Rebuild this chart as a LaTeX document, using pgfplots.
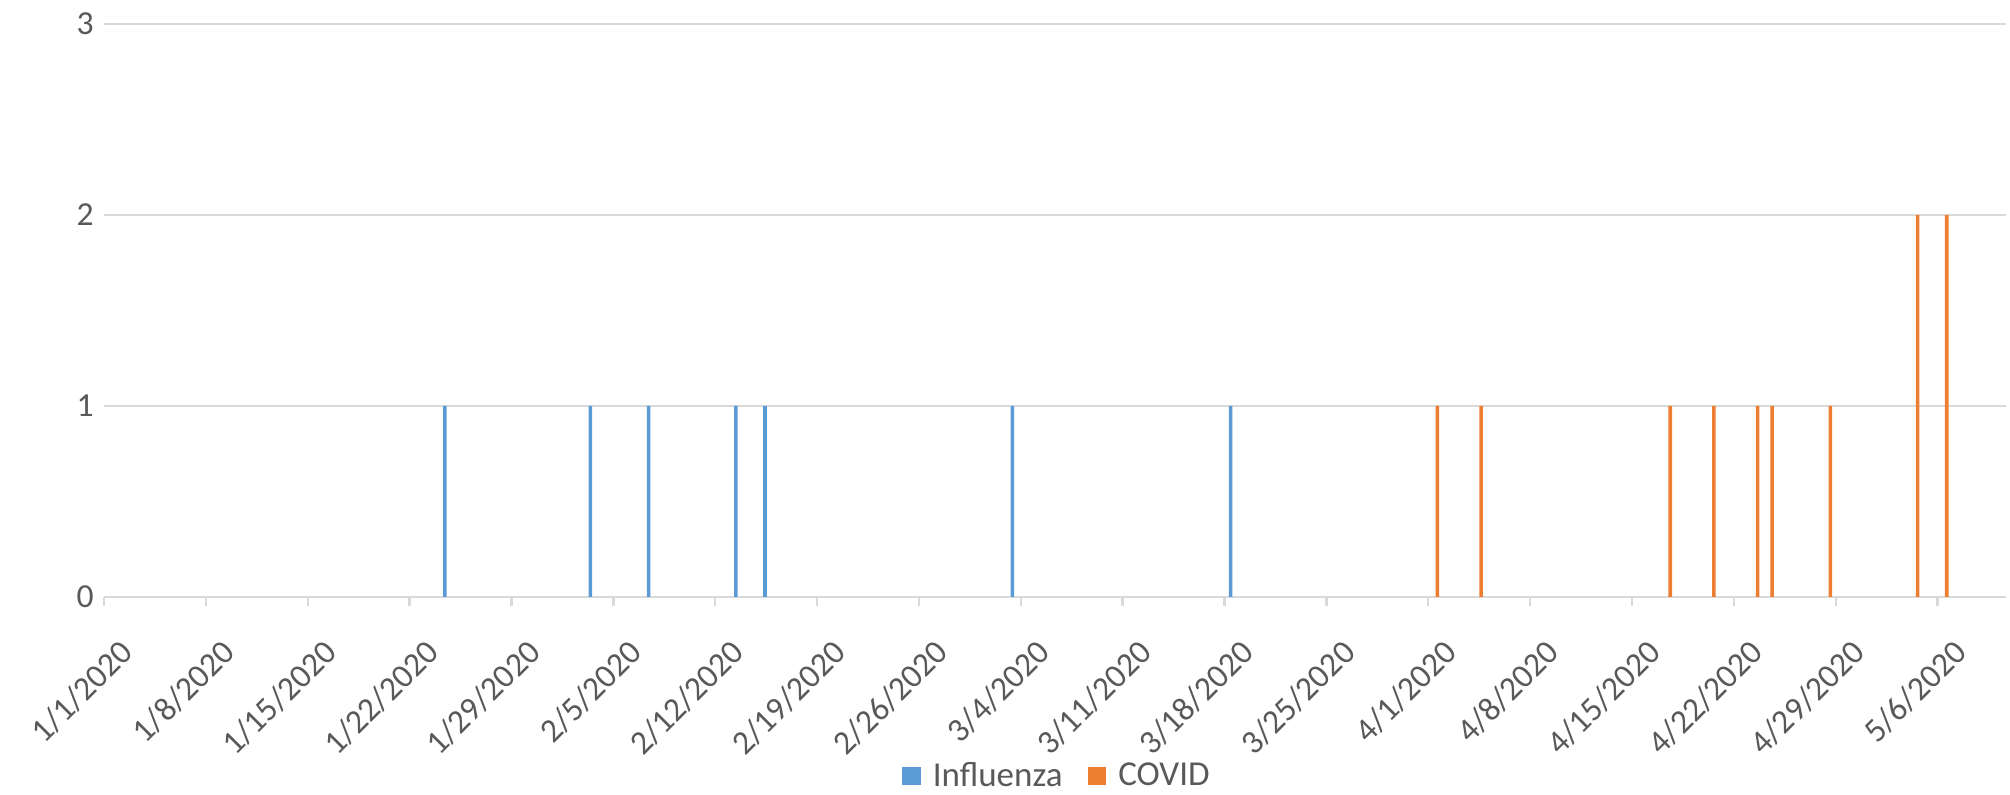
\documentclass[border=0pt]{standalone}
\usepackage{pgfplots}
\pgfplotsset{compat=1.18}
\usepackage{pgfplotstable}
\usepackage{fontspec}
\setmainfont{Carlito}
\definecolor{infl}{HTML}{5B9BD5}
\definecolor{covid}{HTML}{ED7D31}
\definecolor{gridgray}{HTML}{D9D9D9}
\definecolor{txtgray}{HTML}{595959}

% day = days since 1/1/2020
\pgfplotstableread{
day value
23 1
33 1
37 1
43 1
45 1
62 1
77 1
}\influenza
\pgfplotstableread{
day value
91 1
94 1
107 1
110 1
113 1
114 1
118 1
124 2
126 2
}\covid

\begin{document}
\begin{tikzpicture}
\useasboundingbox (-52pt,-99pt) rectangle (953pt,298.5pt);
\begin{axis}[
  at={(0,0)}, anchor=south west,
  scale only axis,
  width=951pt, height=286.5pt,
  xmin=0, xmax=130.7,
  ymin=0, ymax=3,
  ytick={0,1,2,3},
  xtick={0,7,...,126},
  xticklabels={1/1/2020,1/8/2020,1/15/2020,1/22/2020,1/29/2020,2/5/2020,2/12/2020,2/19/2020,2/26/2020,3/4/2020,3/11/2020,3/18/2020,3/25/2020,4/1/2020,4/8/2020,4/15/2020,4/22/2020,4/29/2020,5/6/2020},
  axis line style={draw=none},
  ymajorgrids,
  grid style={gridgray, line width=1.2pt},
  ytick style={draw=none},
  xtick pos=bottom,
  tick align=outside,
  major tick length=4.5pt,
  xtick style={gridgray, line width=1.2pt},
  /pgf/number format/assume math mode=true,
  tick label style={font=\fontsize{16.8}{19}\selectfont, text=txtgray},
  xticklabel style={rotate=45, anchor=north east, inner sep=0pt, xshift=-6pt, yshift=-16pt},
  yticklabel style={anchor=east, inner sep=0pt, xshift=-0.5pt},
  legend columns=2,
  legend style={draw=none, fill=none, at={(0.5015,-0.3124)}, anchor=center,
    font=\fontsize{17.5}{20}\selectfont, text=txtgray,
    /tikz/every odd column/.append style={column sep=4pt},
    /tikz/every even column/.append style={column sep=10.5pt}},
  clip=false,
]
\addplot[ybar, bar width=1.8pt, bar shift=3.06pt, fill=infl, draw=none,
  legend image code/.code={\fill[infl] (0pt,-4.7pt) rectangle (9.4pt,4.7pt);}]
  table[x=day, y=value] {\influenza};
\addlegendentry{Influenza}
\addplot[ybar, bar width=1.8pt, bar shift=4.58pt, fill=covid, draw=none,
  legend image code/.code={\fill[covid] (0pt,-4.7pt) rectangle (9.4pt,4.7pt);}]
  table[x=day, y=value] {\covid};
\addlegendentry{COVID}
\end{axis}
\end{tikzpicture}
\end{document}
